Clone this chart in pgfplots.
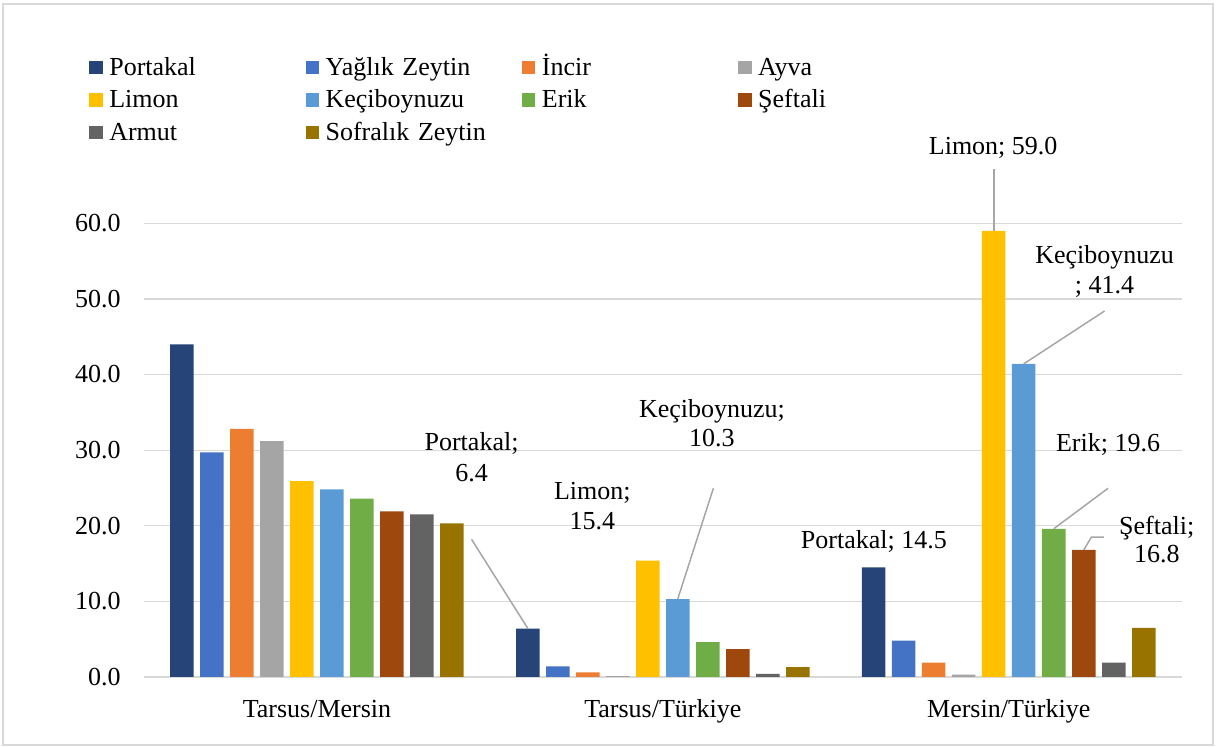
\documentclass[border=0pt]{standalone}
\usepackage{fontspec}
\setmainfont{Liberation Serif}
\usepackage{pgfplots}
\pgfplotsset{compat=1.18}
\definecolor{c1}{HTML}{264478}
\definecolor{c2}{HTML}{4472C4}
\definecolor{c3}{HTML}{ED7D31}
\definecolor{c4}{HTML}{A5A5A5}
\definecolor{c5}{HTML}{FFC000}
\definecolor{c6}{HTML}{5B9BD5}
\definecolor{c7}{HTML}{70AD47}
\definecolor{c8}{HTML}{9E480E}
\definecolor{c9}{HTML}{636363}
\definecolor{c10}{HTML}{997300}
\definecolor{gridgray}{HTML}{D9D9D9}
\definecolor{leadgray}{HTML}{A6A6A6}
\newcommand{\lbl}{\fontsize{13}{15.5}\selectfont}
\begin{document}
\begin{tikzpicture}[font=\lbl]
\useasboundingbox (-72pt,-35pt) rectangle (536.5pt,338.5pt);
\draw[gridgray, line width=0.6pt] (-70.5pt,-34pt) rectangle (534.5pt,336.5pt);
\begin{axis}[
  at={(0pt,0pt)}, anchor=south west,
  width=518.85pt, height=226.85pt, scale only axis,
  xmin=-0.5, xmax=2.5, ymin=0, ymax=60,
  ybar=3.25pt, bar width=11.75pt,
  xtick={0,1,2},
  xticklabels={Tarsus/Mersin, Tarsus/Türkiye, Mersin/Türkiye},
  ytick={0,10,...,60},
  ymajorgrids, grid style={draw=gridgray, line width=0.6pt},
  axis line style={draw=none},
  major tick length=0pt,
  /pgf/number format/.cd, fixed, fixed zerofill, precision=1, assume math mode=true,
  /pgfplots/.cd,
  yticklabel style={font=\lbl, anchor=east, inner sep=0pt, xshift=-11.5pt},
  xticklabel style={font=\lbl, anchor=base, inner sep=0pt, yshift=-20.35pt},
  clip=false,
  legend columns=4,
  legend cell align=left,
  legend image code/.code={\fill[#1] (0pt,-2.5pt) rectangle (6.7pt,4.2pt);},
  legend style={draw=none, fill=none, inner sep=0pt, outer sep=0pt,
    at={(axis description cs:0,0)}, anchor=north west,
    xshift=-27.35pt, yshift=309.9pt,
    font=\lbl, row sep=4.25pt, column sep=0pt,
    nodes={inner sep=0pt, text height=9pt, text depth=3pt, text width=98.15pt, align=left},
    /tikz/every odd column/.append style={column sep=3.3pt}},
]
\addplot[fill=c1, draw=none] coordinates {(0,44.0) (1,6.4) (2,14.5)};
\addplot[fill=c2, draw=none] coordinates {(0,29.7) (1,1.4) (2,4.8)};
\addplot[fill=c3, draw=none] coordinates {(0,32.8) (1,0.6) (2,1.9)};
\addplot[fill=c4, draw=none] coordinates {(0,31.2) (1,0.1) (2,0.3)};
\addplot[fill=c5, draw=none] coordinates {(0,25.9) (1,15.4) (2,59.0)};
\addplot[fill=c6, draw=none] coordinates {(0,24.8) (1,10.3) (2,41.4)};
\addplot[fill=c7, draw=none] coordinates {(0,23.6) (1,4.6) (2,19.6)};
\addplot[fill=c8, draw=none] coordinates {(0,21.9) (1,3.7) (2,16.8)};
\addplot[fill=c9, draw=none] coordinates {(0,21.5) (1,0.4) (2,1.9)};
\addplot[fill=c10, draw=none] coordinates {(0,20.3) (1,1.3) (2,6.5)};
\legend{Portakal, Yağlık Zeytin, İncir, Ayva, Limon, Keçiboynuzu, Erik, Şeftali, Armut, Sofralık Zeytin}
% leader lines
\draw[leadgray, line width=0.75pt] (axis cs:0.447,18.2) -- (axis cs:0.610,6.4);
\draw[leadgray, line width=0.75pt] (axis cs:1.146,24.95) -- (axis cs:1.043,10.3);
\draw[leadgray, line width=0.75pt] (axis cs:1.957,67.14) -- (axis cs:1.957,59.0);
\draw[leadgray, line width=0.75pt] (axis cs:2.277,48.4) -- (axis cs:2.043,41.4);
\draw[leadgray, line width=0.75pt] (axis cs:2.287,24.95) -- (axis cs:2.130,19.6);
\draw[leadgray, line width=0.75pt] (axis cs:2.275,18.5) -- (axis cs:2.239,18.5) -- (axis cs:2.217,16.8);
% data labels
\node[anchor=base, inner sep=0pt] at (axis cs:0.447,29.93) {Portakal;};
\node[anchor=base, inner sep=0pt] at (axis cs:0.447,25.83) {6.4};
\node[anchor=base, inner sep=0pt] at (axis cs:0.796,23.41) {Limon;};
\node[anchor=base, inner sep=0pt] at (axis cs:0.796,19.44) {15.4};
\node[anchor=base, inner sep=0pt] at (axis cs:1.142,34.34) {Keçiboynuzu;};
\node[anchor=base, inner sep=0pt] at (axis cs:1.142,30.46) {10.3};
\node[anchor=base, inner sep=0pt] at (axis cs:1.610,17.0) {Portakal; 14.5};
\node[anchor=base, inner sep=0pt] at (axis cs:1.955,69.16) {Limon; 59.0};
\node[anchor=base, inner sep=0pt] at (axis cs:2.277,54.62) {Keçiboynuzu};
\node[anchor=base, inner sep=0pt] at (axis cs:2.277,50.65) {; 41.4};
\node[anchor=base, inner sep=0pt] at (axis cs:2.287,29.8) {Erik; 19.6};
\node[anchor=base, inner sep=0pt] at (axis cs:2.428,18.78) {Şeftali;};
\node[anchor=base, inner sep=0pt] at (axis cs:2.428,15.12) {16.8};
\end{axis}
\end{tikzpicture}
\end{document}
